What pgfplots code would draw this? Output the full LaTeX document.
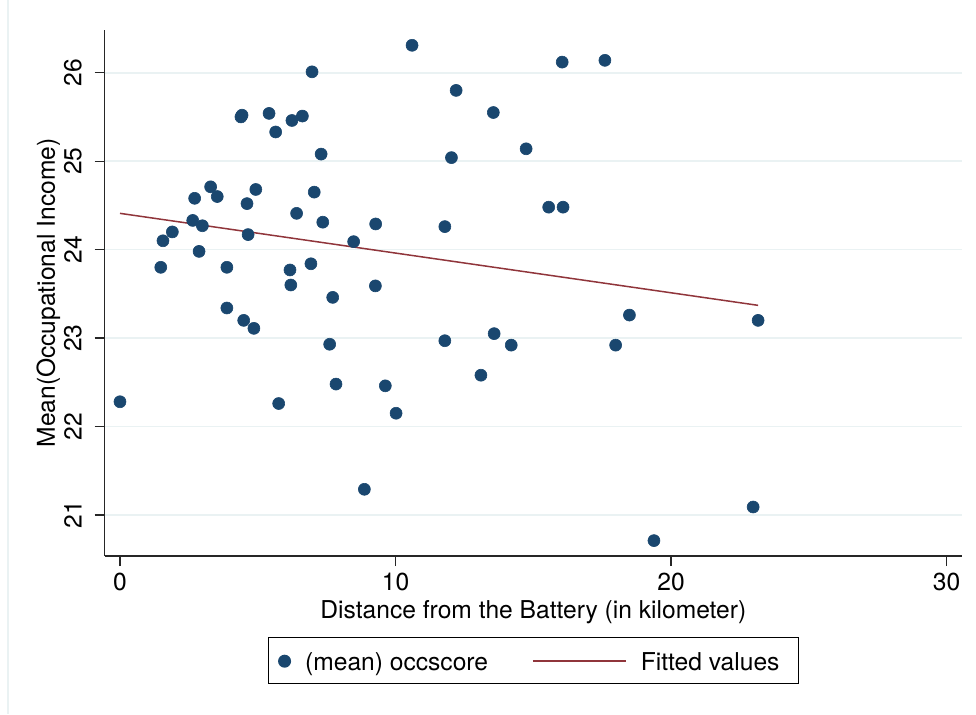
\documentclass[border=0pt]{standalone}
\usepackage{fontspec}
\setmainfont{TeX Gyre Heros}
\usepackage{pgfplots}
\usepackage{pgfplotstable}
\pgfplotsset{compat=1.18}
\definecolor{navyc}{HTML}{1A476F}
\definecolor{maroonc}{HTML}{90353B}
\definecolor{gridc}{HTML}{EAF2F3}
\pgfplotstableread{
x y
0.00 22.28
1.48 23.80
1.56 24.10
1.90 24.20
2.64 24.33
2.71 24.58
2.87 23.98
2.99 24.27
3.29 24.71
3.53 24.60
3.88 23.80
3.88 23.34
4.39 25.50
4.43 25.52
4.49 23.20
4.61 24.52
4.65 24.17
4.86 23.11
4.93 24.68
5.41 25.54
5.65 25.33
5.76 22.26
6.17 23.77
6.20 23.60
6.24 25.46
6.41 24.41
6.62 25.51
6.93 23.84
6.97 26.01
7.05 24.65
7.30 25.08
7.36 24.31
7.61 22.93
7.72 23.46
7.84 22.48
8.48 24.09
8.87 21.29
9.27 23.59
9.28 24.29
9.63 22.46
10.02 22.15
10.60 26.31
11.79 22.97
11.79 24.26
12.03 25.04
12.20 25.80
13.10 22.58
13.55 25.55
13.58 23.05
14.20 22.92
14.74 25.14
15.56 24.48
16.05 26.12
16.08 24.48
17.60 26.14
17.99 22.92
18.49 23.26
19.38 20.71
22.98 21.09
23.16 23.20
}\scatterdata
\pgfplotstableread{
x y
0.00 24.41
23.16 23.37
}\fitdata
\begin{document}
\begin{tikzpicture}[font=\fontsize{12.3}{14}\selectfont]
\begin{axis}[
 at={(0,0)}, anchor=south west,
 scale only axis, width=428.65pt, height=263pt,
 xmin=-0.555, xmax=30.56, ymin=20.536, ymax=26.483,
 axis x line*=bottom, axis y line*=left,
 axis line style={-, black!85, line width=0.6pt},
 x axis line style={-}, y axis line style={-},
 xtick={0,10,20,30}, ytick={21,22,23,24,25,26},
 tick align=outside, major tick length=5pt,
 tick style={black!85, line width=0.6pt},
 minor tick num=0,
 ymajorgrids, grid style={gridc, line width=0.8pt},
 /pgf/number format/assume math mode=true,
 tick label style={font=\fontsize{12.3}{14}\selectfont},
 yticklabel style={xshift=-3pt, rotate=90, anchor=south},
 xlabel={Distance from the Battery (in kilometer)},
 ylabel={Mean(Occupational Income)},
 every axis x label/.style={at={(axis description cs:0.5,-0.1179)}, anchor=base},
 every axis y label/.style={at={(axis description cs:-0.058,0.5)}, rotate=90, anchor=base},
 legend columns=2,
 legend style={at={(0.5,0)}, anchor=north, yshift=-40.65pt, draw=black, line width=0.5pt,
   inner xsep=0pt, inner ysep=3.6pt, column sep=0pt, cells={anchor=base west},
   nodes={inner xsep=0pt, inner ysep=0pt, text height=12.9pt, text depth=2.6pt},
   font=\fontsize{12.3}{14}\selectfont},
]
\addplot[only marks, mark=*, mark size=3pt, mark options={fill=navyc, draw=navyc, line width=0.3pt},
  legend image code/.code={\path[draw=none] (0pt,0pt) -- (18.5pt,0pt); \fill[navyc, draw=none] (8.2pt,4.8pt) circle (3.25pt);}]
  table[x=x, y=y] {\scatterdata};
\addlegendentry{(mean) occscore}
\addplot[maroonc, line width=0.75pt, no marks,
  legend image code/.code={\path[draw=none] (0pt,0pt) -- (76.4pt,0pt); \draw[maroonc, line width=0.9pt] (22.4pt,4.9pt) -- (68.7pt,4.9pt);}]
  table[x=x, y=y] {\fitdata};
\addlegendentry{Fitted values\hspace*{9.5pt}}
\end{axis}
\draw[gridc, line width=0.6pt] (-48.35pt,-79pt) -- (-48.35pt,278pt);
\pgfresetboundingbox
\path[use as bounding box] (-52.35pt,-79pt) rectangle (435.65pt,278pt);
\end{tikzpicture}
\end{document}
